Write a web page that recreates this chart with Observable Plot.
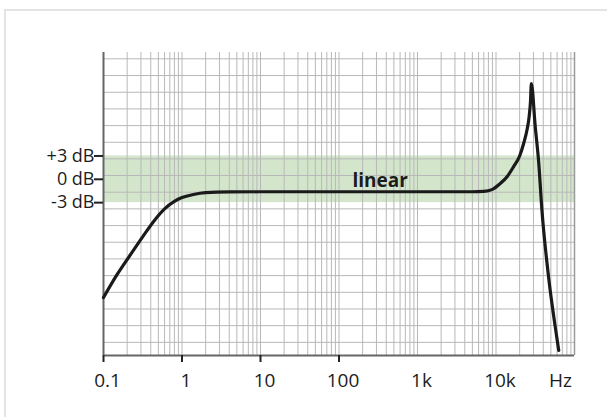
<!DOCTYPE html>
<html>
<head>
<meta charset="utf-8">
<script src="https://cdn.jsdelivr.net/npm/d3@7"></script>
<script src="https://cdn.jsdelivr.net/npm/@observablehq/plot@0.6"></script>
<style>
  html, body { margin: 0; padding: 0; background: #fff; overflow: hidden; }
  #frame { position: absolute; left: 4px; top: 9px; width: 800px; height: 600px; border: 2px solid #e4e4e4; box-sizing: border-box; }
  #chart { position: absolute; left: 0; top: 0; }
  #chart svg { font-family: "Open Sans", sans-serif; }
</style>
</head>
<body>
<div id="frame"></div>
<div id="chart"></div>
<script>
// Frequency response (Hz, dB)
const freq = [0.1, 0.15, 0.22, 0.32, 0.44, 0.6, 0.8, 1.0, 1.4, 2.0, 4, 10, 100, 1000, 5000, 7000, 9000, 11300, 14000, 16700, 20000, 22500, 25000, 26400, 27500, 28200, 31600, 34900, 38500, 46800, 56900, 63000];
const gain = [-15.2, -12.2, -9.7, -7.3, -5.35, -3.8, -2.85, -2.35, -1.95, -1.72, -1.62, -1.6, -1.6, -1.6, -1.6, -1.55, -1.3, -0.55, 0.4, 1.6, 3.0, 4.6, 6.5, 8.0, 10.0, 12.3, 6.8, 2.3, -4.0, -12.6, -19.0, -22.0];

// Tolerance band
const bandTop = 3;
const bandBottom = -3;

// Axis ticks and labels
const xTickValues = [0.1, 1, 10, 100, 1000, 10000];
const xTickLabels = ["0.1", "1", "10", "100", "1k", "10k"];
const xUnit = {text: "Hz", x: 66000};
const xTickMarks = [0.1, 1, 10, 100];
const yTickValues = [3, 0, -3];
const yTickLabels = ["+3 dB", "0 dB", "-3 dB"];

// Horizontal grid lines (dB)
const yGrid = [15.49, 13.34, 11.19, 9.05, 6.90, 4.76, 2.63, 0.49, -1.66, -3.80, -5.95, -8.09, -10.23, -12.38, -14.53, -16.67, -18.81, -20.96];

const label = {text: "linear", x: 335, y: -0.15};

const xDomain = [0.1, 1e5];
const yDomain = [-22.65, 16.3];
const xGrid = d3.scaleLog().domain(xDomain).ticks();

const data = freq.map((f, i) => ({f, g: gain[i]}));
const xLabelMap = new Map(xTickValues.map((v, i) => [v, xTickLabels[i]]));
const yLabelMap = new Map(yTickValues.map((v, i) => [v, yTickLabels[i]]));

const chart = Plot.plot({
  width: 607,
  height: 417,
  marginLeft: 103,
  marginRight: 33,
  marginTop: 52,
  marginBottom: 62,
  style: {background: "transparent", fontFamily: "'Open Sans', sans-serif", color: "#1c1c1c"},
  x: {type: "log", domain: xDomain},
  y: {domain: yDomain},
  marks: [
    Plot.rect([{y1: bandBottom, y2: bandTop}], {x1: xDomain[0], x2: xDomain[1], y1: "y1", y2: "y2", fill: "#d3e6cc"}),
    Plot.ruleX(xGrid, {stroke: "#b8b8b8", strokeWidth: 1}),
    Plot.ruleY(yGrid, {x1: xDomain[0], x2: xDomain[1], stroke: "#b8b8b8", strokeWidth: 1}),
    Plot.ruleX([xDomain[1]], {stroke: "#9a9a9a", strokeWidth: 1.5}),
    Plot.ruleX([xDomain[0]], {stroke: "#666", strokeWidth: 2}),
    Plot.ruleY([yDomain[0]], {stroke: "#666", strokeWidth: 2}),
    Plot.axisX({ticks: xTickMarks, tickSize: 7, text: null, stroke: "#222", strokeWidth: 2}),
    Plot.axisX({ticks: xTickValues, tickSize: 0, tickPadding: 18, dx: 4, tickFormat: d => xLabelMap.get(d), fontSize: 19, fill: "#1c1c1c", label: null}),
    Plot.text([xUnit], {x: "x", text: "text", frameAnchor: "bottom", lineAnchor: "top", dy: 18, fontSize: 19, fill: "#1c1c1c"}),
    Plot.axisY({ticks: yTickValues, tickSize: 9, tickPadding: 0, tickFormat: d => yLabelMap.get(d), fontSize: 18, stroke: "#222", strokeWidth: 2, fill: "#1c1c1c", label: null}),
    Plot.line(data, {x: "f", y: "g", stroke: "#1a1a1a", strokeWidth: 3.2, curve: "monotone-x"}),
    Plot.text([label], {x: "x", y: "y", text: "text", fontWeight: "bold", fontSize: 19, fill: "#1c1c1c"})
  ]
});
document.getElementById("chart").appendChild(chart);
</script>
</body>
</html>
